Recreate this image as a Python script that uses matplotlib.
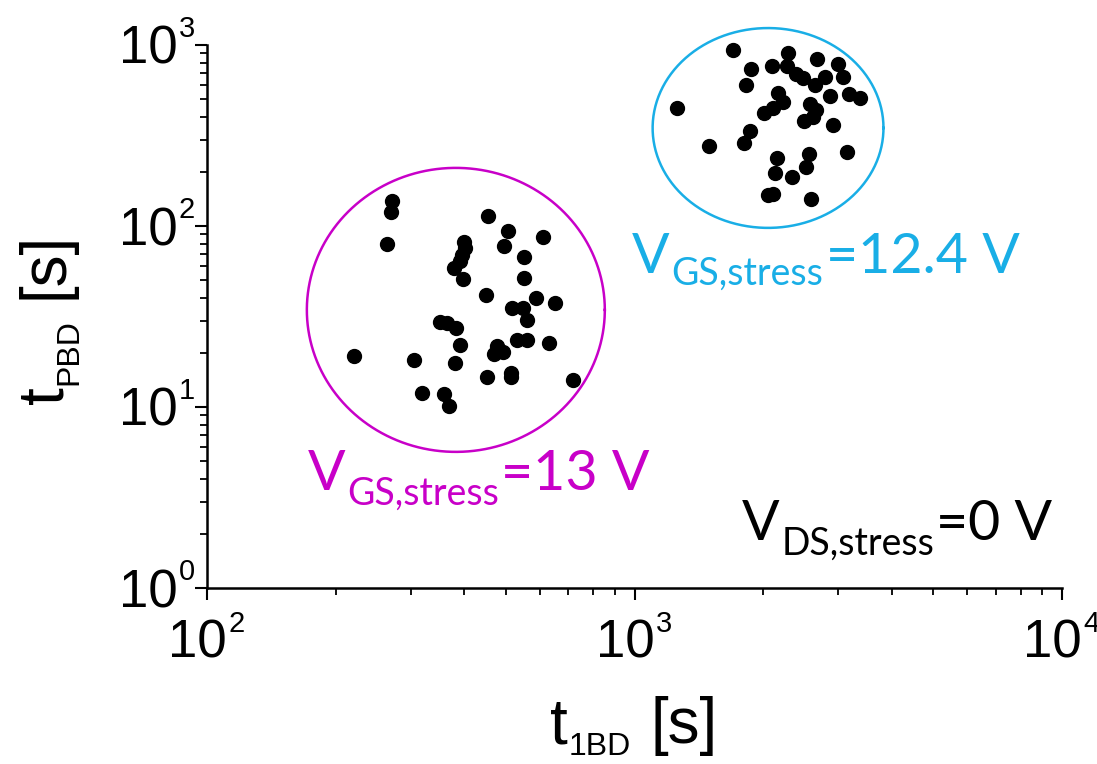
import numpy as np
import matplotlib
matplotlib.use("Agg")
import matplotlib.pyplot as plt
from matplotlib.transforms import offset_copy

# Breakdown times, V_GS,stress = 13 V
t1bd_13v = [271, 269, 264, 454, 506, 611, 495, 399, 401, 395, 391, 378, 397, 551,
            551, 449, 588, 652, 517, 548, 561, 351, 364, 382, 391, 531, 561, 631,
            476, 492, 469, 221, 305, 380, 452, 514, 514, 718, 318, 358, 368]
tpbd_13v = [137, 119, 79.5, 114, 93.8, 87, 77.6, 81.6, 75.6, 69.2, 64.1, 58.6, 51, 67.4,
            51.6, 41.6, 40, 37.6, 35.2, 35.2, 30.3, 29.5, 29.1, 27.3, 22, 23.5, 23.5, 22.6,
            21.7, 20.1, 19.6, 19.1, 18.2, 17.5, 14.6, 15.4, 14.6, 14.1, 11.9, 11.8, 10.1]

# Breakdown times, V_GS,stress = 12.4 V
t1bd_124v = [1700, 2286, 2673, 2993, 1873, 2097, 2274, 2387, 2479, 2790, 3074, 2643,
             1823, 2166, 2225, 2108, 2009, 2865, 3176, 3370, 2574, 2658, 2616, 2492,
             2913, 1257, 1862, 1803, 1494, 3141, 2155, 2560, 2518, 2132, 2334, 2051,
             2108, 2588]
tpbd_124v = [938, 903, 837, 785, 737, 765, 765, 691, 657, 666, 666, 601,
             601, 543, 484, 449, 421, 523, 536, 510, 472, 437, 400, 380,
             361, 449, 335, 288, 277, 256, 238, 250, 212, 196, 187, 148,
             150, 141]

# Group outlines: centre (s, s) and half-extent in decades (x, y)
group_13v = (382, 34.4, 0.3485, 0.7845)
group_124v = (2053, 348, 0.270, 0.552)

x_ticks = [1e2, 1e3, 1e4]
x_exps = ["2", "3", "4"]
y_ticks = [1e0, 1e1, 1e2, 1e3]
y_exps = ["0", "1", "2", "3"]

MAGENTA = "#C800C8"
CYAN = "#19AEE6"
ARIAL = "Liberation Sans"
NOTE = "Lato"

W, H = 1097, 764
fig = plt.figure(figsize=(W / 100, H / 100), dpi=100)
ax = fig.add_axes([207 / W, (H - 588) / H, 855 / W, 543 / H])
ax.set_xscale("log")
ax.set_yscale("log")
ax.set_xlim(x_ticks[0], x_ticks[-1])
ax.set_ylim(y_ticks[0], y_ticks[-1])

for side in ("top", "right"):
    ax.spines[side].set_visible(False)
for side in ("left", "bottom"):
    ax.spines[side].set_linewidth(1.8)

ax.tick_params(which="major", direction="out", length=8.5, width=1.5,
               labelbottom=False, labelleft=False)
ax.tick_params(which="minor", direction="out", length=5, width=1.3)
ax.set_xticks(x_ticks)
ax.set_yticks(y_ticks)

# data points
ax.plot(t1bd_13v, tpbd_13v, "o", color="black", markersize=10, clip_on=False)
ax.plot(t1bd_124v, tpbd_124v, "o", color="black", markersize=10, clip_on=False)


def outline(group, color):
    cx, cy, rx, ry = group
    th = np.linspace(0, 2 * np.pi, 500)
    lx = np.log10(cx) + rx * np.cos(th)
    ly = np.log10(cy) + ry * np.sin(th)
    ax.plot(10 ** lx, 10 ** ly, color=color, lw=1.8, clip_on=False)


outline(group_13v, MAGENTA)
outline(group_124v, CYAN)

# tick labels: "10" with a small raised exponent
px = 0.72  # points per pixel
for xt, e in zip(x_ticks, x_exps):
    tr = ax.get_xaxis_transform()
    ax.text(xt, 0, "10", transform=offset_copy(tr, fig, x=20 * px, y=-70 * px, units="points"),
            ha="right", va="baseline", fontsize=38, family=ARIAL, clip_on=False)
    ax.text(xt, 0, e, transform=offset_copy(tr, fig, x=21 * px, y=-44 * px, units="points"),
            ha="left", va="baseline", fontsize=21, family=ARIAL, clip_on=False)
for yt, e in zip(y_ticks, y_exps):
    tr = ax.get_yaxis_transform()
    ax.text(0, yt, "10", transform=offset_copy(tr, fig, x=-29 * px, y=-19 * px, units="points"),
            ha="right", va="baseline", fontsize=38, family=ARIAL, clip_on=False)
    ax.text(0, yt, e, transform=offset_copy(tr, fig, x=-28 * px, y=8 * px, units="points"),
            ha="left", va="baseline", fontsize=21, family=ARIAL, clip_on=False)

renderer = fig.canvas.get_renderer()


def runs_text(x, y, runs, color="black", family=ARIAL, rotation=0, center=False):
    """Lay out (text, size, baseline shift px, gap px) runs from figure pixel (x, y)."""
    items = []
    adv = 0.0
    for s, size, dy, gap in runs:
        adv += gap
        ox, oy = (adv, dy) if rotation == 0 else (-dy, adv)
        t = fig.text((x + ox) / W, (y + oy) / H, s, fontsize=size, color=color,
                     family=family, rotation=rotation, rotation_mode="anchor",
                     ha="left", va="baseline")
        bb = t.get_window_extent(renderer)
        adv += bb.width if rotation == 0 else bb.height
        items.append((t, ox, oy))
    if center:
        for t, ox, oy in items:
            if rotation == 0:
                t.set_position(((x + ox - adv / 2) / W, (y + oy) / H))
            else:
                t.set_position(((x + ox) / W, (y + oy - adv / 2) / H))


# axis titles
runs_text(634, H - 743, [("t", 46, 0, 0), ("1BD", 23, -12, 1), ("[s]", 46, 0, 20)],
          center=True)
runs_text(62, H - 318, [("t", 46, 0, 0), ("PBD", 23, -15, 1), ("[s]", 46, 0, 20)],
          rotation=90, center=True)

# stress-condition notes
runs_text(632, H - 273, [("V", 40, 0, 0), ("GS,stress", 27, -12, 2), ("=12.4 V", 40, 0, 2)],
          color=CYAN, family=NOTE)
runs_text(308, H - 490, [("V", 40, 0, 0), ("GS,stress", 27, -15, 2), ("=13 V", 40, 0, 2)],
          color=MAGENTA, family=NOTE)
runs_text(742, H - 540, [("V", 40, 0, 0), ("DS,stress", 27, -15, 2), ("=0 V", 40, 0, 2)],
          color="black", family=NOTE)

fig.savefig("out.png", dpi=100)
